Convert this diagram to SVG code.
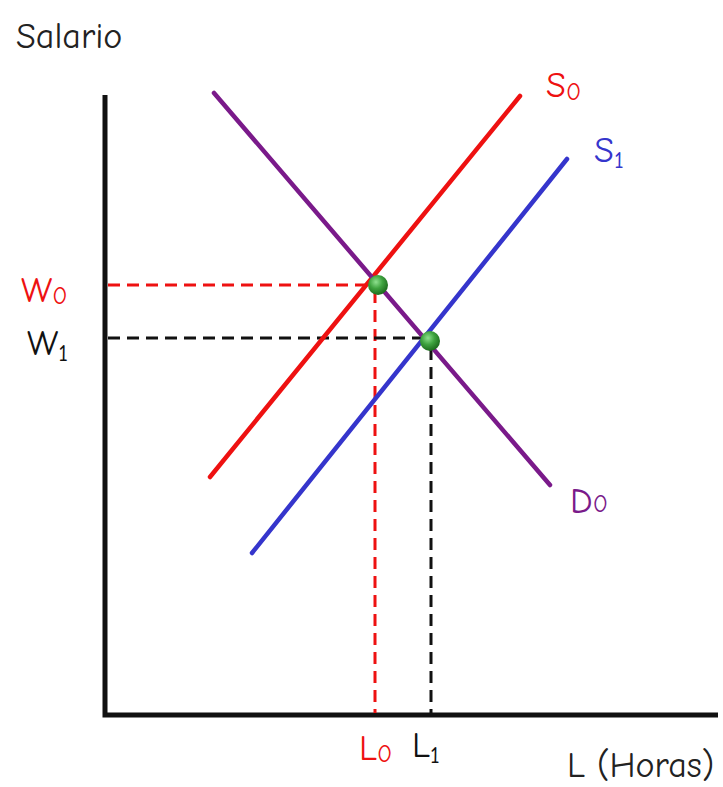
<svg xmlns="http://www.w3.org/2000/svg" width="723" height="787" viewBox="0 0 723 787">
<defs>
<radialGradient id="g" cx="0.4" cy="0.35" r="0.65">
<stop offset="0" stop-color="#8fe08f"/>
<stop offset="0.5" stop-color="#3fa33f"/>
<stop offset="1" stop-color="#1d6b1d"/>
</radialGradient>
</defs>
<style>
text{font-family:"Comic Neue","DejaVu Sans","Noto Sans",sans-serif;}
.lbl{font-size:36px;}
.sub{font-size:25px;}
.dash{stroke-width:3;stroke-dasharray:12 7;fill:none;}
.curve{stroke-width:4.5;fill:none;stroke-linecap:round;}
</style>
<rect width="723" height="787" fill="#ffffff"/>
<g id="axes" stroke="#111" stroke-width="5" fill="none">
<polyline points="105,95 105,715 718,715"/>
</g>
<g id="connectors">
<line class="dash" x1="108" y1="285" x2="372" y2="285" stroke="#ee1111"/>
<line class="dash" x1="375" y1="291" x2="375" y2="713" stroke="#ee1111"/>
<line class="dash" x1="108" y1="338" x2="422" y2="338" stroke="#111"/>
<line class="dash" x1="431" y1="348" x2="431" y2="713" stroke="#111"/>
</g>
<g id="S0"><line class="curve" x1="210" y1="477" x2="520" y2="96" stroke="#ee1111"/></g>
<g id="S1"><line class="curve" x1="252" y1="553" x2="567" y2="159" stroke="#3535cc"/></g>
<g id="D0"><line class="curve" x1="214" y1="93" x2="550" y2="485" stroke="#7a1a8a"/></g>
<g id="E0"><circle cx="378" cy="285" r="10" fill="url(#g)"/></g>
<g id="E1"><circle cx="430" cy="341" r="10" fill="url(#g)"/></g>
<g id="labels">
<text x="16" y="48" class="lbl" fill="#222">Salario</text>
<text x="21" y="302" class="lbl" fill="#ee1111">W<tspan class="sub" dy="2">0</tspan></text>
<text x="27" y="355" class="lbl" fill="#111">W<tspan class="sub" dy="6">1</tspan></text>
<text x="546" y="97" class="lbl" fill="#ee1111">S<tspan class="sub" dy="3">0</tspan></text>
<text x="594" y="162" class="lbl" fill="#3535cc">S<tspan class="sub" dy="6">1</tspan></text>
<text x="570" y="513" class="lbl" fill="#7a1a8a">D<tspan class="sub" dy="-1">0</tspan></text>
<text x="359" y="760" class="lbl" fill="#ee1111">L<tspan class="sub" dy="2">0</tspan></text>
<text x="412" y="757" class="lbl" fill="#111">L<tspan class="sub" dy="6">1</tspan></text>
<text x="567" y="777" class="lbl" fill="#222">L (Horas)</text>
</g>
</svg>
